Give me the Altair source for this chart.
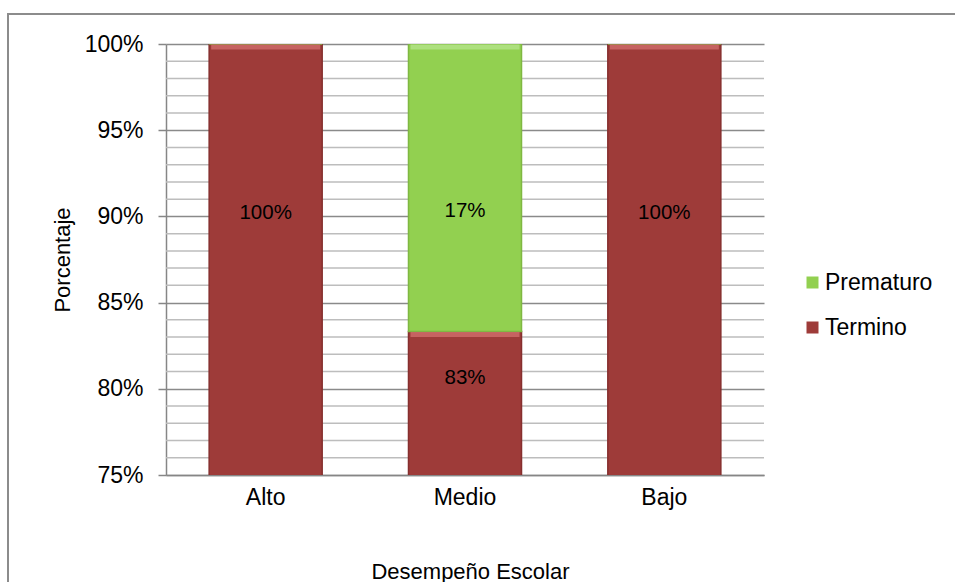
import altair as alt
import pandas as pd

# Desempeño escolar vs. tipo de nacimiento (porcentajes por grupo)
categories = ["Alto", "Medio", "Bajo"]
termino = [1.0, 0.8333, 1.0]
prematuro = [0.0, 0.1667, 0.0]

series = ["Prematuro", "Termino"]
series_colors = ["#92D050", "#9E3B39"]
edge_colors = ["#7FB842", "#862F2E"]
shine_colors = ["#B4E38A", "#CF6E6C"]

# where each value label sits on the percentage axis
label_anchor_termino = [0.902, 0.806, 0.902]
label_anchor_prematuro = [None, 0.903, None]

rows = []
for i, cat in enumerate(categories):
    rows.append({"cat": cat, "serie": "Termino", "val": termino[i],
                 "lo": 0.0, "hi": termino[i], "pos": label_anchor_termino[i]})
    rows.append({"cat": cat, "serie": "Prematuro", "val": prematuro[i],
                 "lo": termino[i], "hi": termino[i] + prematuro[i],
                 "pos": label_anchor_prematuro[i]})
df = pd.DataFrame(rows)

FONT = "Liberation Sans"
W, H = 598, 431
PAD = {"left": 166, "top": 44, "right": 955 - 166 - W, "bottom": 582 - 44 - H}

x_scale = alt.Scale(domain=categories, paddingInner=0.433, paddingOuter=0.2165)
y_scale = alt.Scale(domain=[0.75, 1.0], nice=False, zero=False)

x_axis = alt.Axis(
    title="Desempeño Escolar", labelAngle=0, labelFont=FONT, labelFontSize=23,
    labelColor="#000000", labelPadding=11, ticks=False, domainColor="#868686",
    domainWidth=1.5, titleFont=FONT, titleFontSize=22, titleFontWeight="normal",
    titleColor="#000000", titleX=304, titleY=96, titleBaseline="middle",
    titleAnchor="start", titleAlign="center",
)
y_axis = alt.Axis(
    title="Porcentaje", values=[0.75, 0.80, 0.85, 0.90, 0.95, 1.0], format=".0%",
    labelFont=FONT, labelFontSize=23, labelColor="#000000", labelPadding=15,
    tickSize=8, tickColor="#868686", tickWidth=1.5, domainColor="#868686",
    domainWidth=1.5, grid=True, gridColor="#8A8A8A", gridWidth=1.5,
    titleFont=FONT, titleFontSize=22, titleFontWeight="normal", titleColor="#000000",
    titleAngle=-90, titleX=-104, titleY=H / 2, titleAlign="center",
    titleBaseline="middle", titleAnchor="start",
)

x_enc = alt.X("cat:N", scale=x_scale, axis=x_axis, sort=categories)

# light 1% gridlines between the labelled ones
minor_levels = [v / 100 for v in range(76, 100) if v % 5]
minor = alt.Chart(pd.DataFrame({"lvl": minor_levels})).mark_rule(
    color="#BDBDBD", strokeWidth=1.5
).encode(y=alt.Y("lvl:Q", scale=y_scale, axis=y_axis))

bars = alt.Chart(df).mark_bar(clip=True, strokeWidth=1.5).encode(
    x=x_enc,
    y=alt.Y("hi:Q", scale=y_scale, axis=y_axis),
    y2="lo:Q",
    color=alt.Color(
        "serie:N",
        scale=alt.Scale(domain=series, range=series_colors),
        legend=alt.Legend(
            title=None, orient="none", legendX=635, legendY=227, labelFont=FONT,
            labelFontSize=23, labelColor="#000000", symbolType="square",
            symbolSize=144, symbolStrokeWidth=0, rowPadding=21, labelOffset=1,
            padding=0,
        ),
    ),
    stroke=alt.Stroke("serie:N", scale=alt.Scale(domain=series, range=edge_colors),
                      legend=None),
)

# lighter bevel along the top edge of each segment
shine = alt.Chart(df).transform_filter("datum.val > 0").mark_tick(
    thickness=5, size=109, yOffset=3, opacity=0.8, clip=True
).encode(
    x=x_enc,
    y=alt.Y("hi:Q", scale=y_scale, axis=y_axis),
    color=alt.Color("serie:N", scale=alt.Scale(domain=series, range=shine_colors),
                    legend=None),
)

labels = alt.Chart(df).transform_filter("datum.val > 0").mark_text(
    font=FONT, fontSize=20.5, color="#000000", baseline="middle", align="center"
).encode(
    x=x_enc,
    y=alt.Y("pos:Q", scale=y_scale, axis=y_axis),
    text=alt.Text("val:Q", format=".0%"),
)

# outer chart frame
frame = alt.Chart(pd.DataFrame({"k": [0]})).mark_rect(
    filled=False, stroke="#8C8C8C", strokeWidth=2
).encode(
    x=alt.value(8 - 166), x2=alt.value(955 - 166 + 20),
    y=alt.value(14 - 44), y2=alt.value(582 - 44 + 20),
)

chart = alt.layer(minor, bars, shine, labels, frame).resolve_scale(
    color="independent"
).properties(
    width=W, height=H, padding=PAD, autosize=alt.AutoSizeParams(type="none"),
    background="#FFFFFF",
).configure_view(stroke=None)

chart.save("out.html", embed_options={"renderer": "svg", "actions": False})
